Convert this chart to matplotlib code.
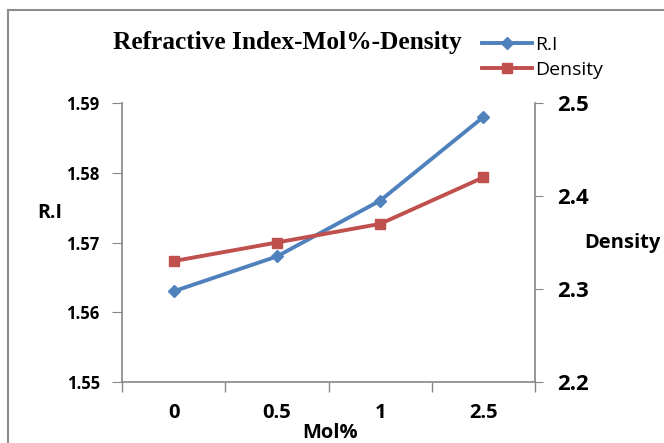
import matplotlib
matplotlib.use("Agg")
import matplotlib.pyplot as plt
from matplotlib.patches import Rectangle

categories = ["0", "0.5", "1", "2.5"]
ri_values = [1.563, 1.568, 1.576, 1.588]
density_values = [2.33, 2.35, 2.37, 2.42]
ri_ticks = [1.55, 1.56, 1.57, 1.58, 1.59]
density_ticks = [2.2, 2.3, 2.4, 2.5]

BLUE = "#4F81BD"
RED = "#C0504D"
GRAY = "#868686"
FONT = "Open Sans"

fig = plt.figure(figsize=(6.64, 4.43), dpi=100)
fig.patches.append(Rectangle((8/664, -0.1), 1.2, 1 - 10/443 + 0.1, transform=fig.transFigure,
                             fill=False, edgecolor="#8c8c8c", linewidth=1.5))

ax = fig.add_axes([122/664, 1 - 382/443, (535 - 122)/664, (382 - 103)/443])
ax2 = ax.twinx()

x = list(range(len(categories)))
l1, = ax.plot(x, ri_values, color=BLUE, lw=2.8, marker="D", ms=6, label="R.I")
l2, = ax2.plot(x, density_values, color=RED, lw=2.8, marker="s", ms=6.5, label="Density")

ax.set_xlim(-0.5, len(categories) - 0.5)
ax.set_ylim(1.55, 1.59)
ax2.set_ylim(2.2, 2.5)

ax.set_xticks(x)
ax.set_xticklabels(categories, fontsize=14.5, fontweight="bold", family=FONT)
ax.set_xticks([i - 0.5 for i in range(len(categories) + 1)], minor=True)
ax.tick_params(axis="x", which="major", length=0, pad=15)
ax.tick_params(axis="x", which="minor", length=7, color=GRAY, width=1)

ax.set_yticks(ri_ticks)
ax.set_yticklabels([f"{v:.2f}" for v in ri_ticks], fontsize=12, fontweight="bold", family=FONT)
ax.tick_params(axis="y", length=7, color=GRAY, pad=9)

ax2.set_yticks(density_ticks)
ax2.set_yticklabels([f"{v:.1f}" for v in density_ticks], fontsize=16, fontweight="bold", family=FONT)
ax2.tick_params(axis="y", length=6, color=GRAY, pad=10)

for a in (ax, ax2):
    for s in a.spines.values():
        s.set_visible(False)
ax.spines["left"].set_visible(True)
ax.spines["bottom"].set_visible(True)
ax2.spines["right"].set_visible(True)
for s in (ax.spines["left"], ax.spines["bottom"], ax2.spines["right"]):
    s.set_color(GRAY)
    s.set_linewidth(1.2)

fig.text(37/664, 1 - 213/443, "R.I", fontsize=14, fontweight="bold", family=FONT, ha="left", va="center")
fig.text(584/664, 1 - 243/443, "Density", fontsize=14.5, fontweight="bold", family=FONT, ha="left", va="center")
fig.text(330/664, 1 - 433/443, "Mol%", fontsize=14.5, fontweight="bold", family=FONT, ha="center", va="center")

fig.text(113/664, 1 - 43/443, "Refractive Index-Mol%-Density", fontsize=18.3, fontweight="bold",
         family="Liberation Serif", ha="left", va="center")

fig.legend(handles=[l1, l2], loc="upper left", bbox_to_anchor=(474/664, 1 - 28/443),
           frameon=False, prop={"family": FONT, "size": 14}, handlelength=2.6,
           handletextpad=0.15, labelspacing=0.35, borderaxespad=0)

fig.savefig("out.png", dpi=100)
